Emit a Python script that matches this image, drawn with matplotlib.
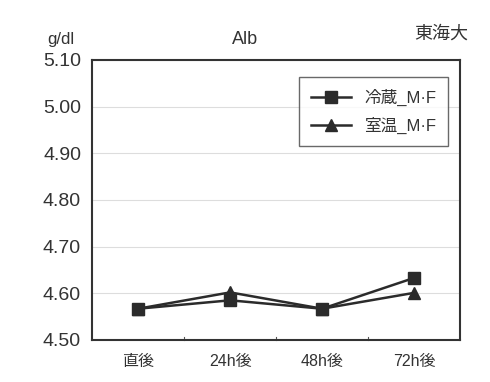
import numpy as np
import matplotlib.pyplot as plt

plt.rcParams['font.family'] = ['Liberation Sans', 'Noto Sans CJK JP', 'DejaVu Sans']

categories = ['直後', '24h後', '48h後', '72h後']
cold = [4.567, 4.585, 4.567, 4.633]
room = [4.567, 4.602, 4.567, 4.601]
yticks = [4.50, 4.60, 4.70, 4.80, 4.90, 5.00, 5.10]

fig = plt.figure(figsize=(4.9, 3.82), dpi=100)
ax = fig.add_axes([0.188, 0.110, 0.751, 0.733])

x = np.arange(len(categories))
ax.plot(x, cold, color='#2b2b2b', lw=1.8, marker='s', ms=8, label='冷蔵_M·F', zorder=3)
ax.plot(x, room, color='#2b2b2b', lw=1.8, marker='^', ms=8, label='室温_M·F', zorder=3)

ax.set_xlim(-0.5, 3.5)
ax.set_ylim(4.50, 5.10)
ax.set_yticks(yticks)
ax.set_yticklabels(['%.2f' % v for v in yticks], fontsize=14, color='#333333')
ax.set_xticks(x)
ax.set_xticklabels(categories, fontsize=11.5, color='#333333')
ax.tick_params(axis='x', length=0, pad=10)
ax.tick_params(axis='y', length=0, pad=8)
for b in [0.5, 1.5, 2.5]:
    ax.plot([b, b], [4.50, 4.507], color='#555555', lw=0.8, clip_on=False)
ax.grid(axis='y', color='#dddddd', lw=0.8)
ax.set_axisbelow(True)
for s in ax.spines.values():
    s.set_color('#333333')
    s.set_linewidth(1.5)

leg = ax.legend(loc='upper right', bbox_to_anchor=(0.99, 0.97), fontsize=12,
                frameon=True, fancybox=False, edgecolor='#444444', handlelength=2.4,
                borderpad=0.7, labelspacing=0.7)
leg.get_frame().set_linewidth(1.0)
for t in leg.get_texts():
    t.set_color('#333333')

fig.text(0.125, 0.885, 'g/dl', fontsize=12, color='#333333', ha='center')
fig.text(0.50, 0.885, 'Alb', fontsize=13, color='#333333', ha='center')
fig.text(0.90, 0.9, '東海大', fontsize=13, color='#333333', ha='center')

fig.savefig('out.png')
